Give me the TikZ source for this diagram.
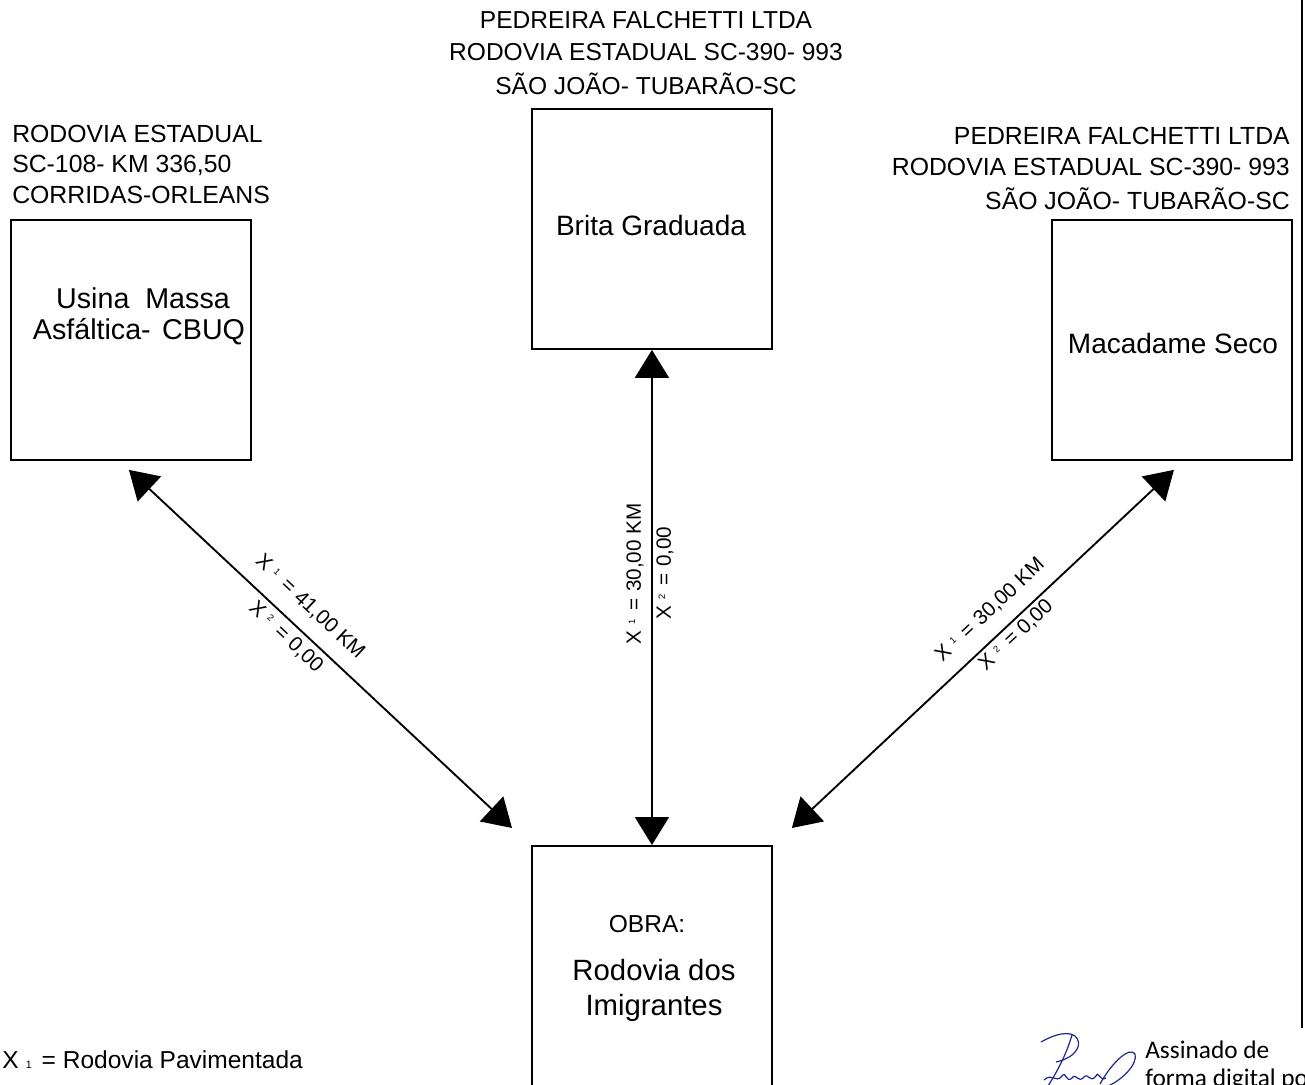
\documentclass[tikz,border=0pt]{standalone}
\usepackage{fontspec}
\setmainfont{Liberation Sans}
\newfontfamily\sigfont{Carlito}
\usetikzlibrary{arrows.meta,calc}
\definecolor{signblue}{RGB}{30,40,140}
\newcommand\subn[1]{\raisebox{0.28em}{\fontsize{7}{7}\selectfont #1}}
\begin{document}
\begin{tikzpicture}[x=0.75pt,y=-0.75pt,
  box/.style={draw, line width=1.4pt, minimum width=180pt, minimum height=180pt, inner sep=0pt},
  link/.style={line width=1.4pt, {Triangle[length=21pt,width=25.5pt]}-{Triangle[length=21pt,width=25.5pt]}},
  head/.style={font=\fontsize{18.4}{24}\selectfont, inner sep=0pt},
  lbl/.style={font=\fontsize{21}{26}\selectfont, inner sep=0pt},
  big/.style={font=\fontsize{22}{28}\selectfont, inner sep=0pt},
  dist/.style={font=\fontsize{15.5}{18}\selectfont, inner sep=0pt},
]
\useasboundingbox (0,0) rectangle (1305,1084);
\clip (0,0) rectangle (1305,1084);
% boxes
\node[box, anchor=north west] (U) at (10,219) {};
\node[box, anchor=north west] (B) at (531,108) {};
\node[box, anchor=north west] (M) at (1051,219) {};
\node[box, anchor=north west, minimum height=225pt] (O) at (531,845) {};
% headings
\node[head, align=center, anchor=north] (hB) at (646,11.5) {PEDREIRA FALCHETTI LTDA\\RODOVIA ESTADUAL SC-390- 993\\[1.5pt]SÃO JOÃO- TUBARÃO-SC};
\node[font=\fontsize{18.6}{23}\selectfont, inner sep=0pt, align=left, anchor=north west] (hU) at (12,124.5) {RODOVIA ESTADUAL\\SC-108- KM 336,50\\CORRIDAS-ORLEANS};
\node[font=\fontsize{18.6}{23.5}\selectfont, inner sep=0pt, align=right, anchor=north east] (hM) at (1290,126.5) {PEDREIRA FALCHETTI LTDA\\RODOVIA ESTADUAL SC-390- 993\\[2pt]SÃO JOÃO- TUBARÃO-SC};
% box labels
\node[font=\fontsize{21.5}{26}\selectfont, inner sep=0pt] (tU1) at (143,298) {Usina\ \ Massa};
\node[font=\fontsize{21.5}{26}\selectfont, inner sep=0pt] (tU2) at (139,332) {Asfáltica-\hspace{0.4em}CBUQ};
\node[lbl] (tB) at (651,225) {Brita Graduada};
\node[lbl] (tM) at (1173,343) {Macadame Seco};
\node[head, anchor=base] (tO1) at (647,932) {OBRA:};
\node[big, anchor=base] (tO2) at (654,980) {Rodovia dos};
\node[big, anchor=base] (tO3) at (654,1015) {Imigrantes};
% connectors
\draw[link] ($(U.south)+(-2,9)$) -- ($(O.north west)+(-19,-17)$);
\draw[link] (B.south) -- (O.north);
\draw[link] ($(M.south)+(2,9)$) -- ($(O.north east)+(19,-17)$);
% connector labels
\node[dist, rotate=-43.2] (dU1) at (310,607) {X\hspace{0.3em}\subn{1}\hspace{0.45em}=\hspace{0.3em}41,00 KM};
\node[dist, rotate=-43.2] (dU2) at (286,637) {X\hspace{0.3em}\subn{2}\hspace{0.45em}=\hspace{0.3em}0,00};
\node[dist, rotate=90] (dB1) at (635,574) {X\hspace{0.3em}\subn{1}\hspace{0.45em}=\hspace{0.3em}30,00 KM};
\node[dist, rotate=90] (dB2) at (665,573) {X\hspace{0.3em}\subn{2}\hspace{0.45em}=\hspace{0.3em}0,00};
\node[dist, rotate=43.2] (dM1) at (990,610) {X\hspace{0.3em}\subn{1}\hspace{0.45em}=\hspace{0.3em}30,00 KM};
\node[dist, rotate=43.2] (dM2) at (1016,635) {X\hspace{0.3em}\subn{2}\hspace{0.45em}=\hspace{0.3em}0,00};
% legend
\node[head, anchor=base west] (leg) at (2,1068) {X\hspace{0.3em}{\fontsize{8}{8}\selectfont 1}\hspace{0.4em}= Rodovia Pavimentada};
% right border line
\draw[line width=1.4pt] (1302,0) coordinate (rt) -- (1302,1028) coordinate (rb);
% signature
\begin{scope}[signblue, line width=0.9pt]
\draw (1041,1042) .. controls (1055,1034) and (1068,1031) .. (1075,1036) .. controls (1083,1043) and (1078,1057) .. (1056,1062);
\draw (1072,1035) .. controls (1066,1055) and (1058,1070) .. (1048,1086);
\draw (1044,1080) .. controls (1052,1072) and (1056,1084) .. (1062,1076) .. controls (1066,1070) and (1066,1084) .. (1072,1078) .. controls (1076,1072) and (1078,1084) .. (1084,1077) .. controls (1088,1072) and (1090,1084) .. (1096,1076) .. controls (1098,1070) and (1100,1082) .. (1106,1078);
\draw (1100,1084) .. controls (1112,1062) and (1130,1046) .. (1135,1054) .. controls (1138,1064) and (1122,1080) .. (1108,1086);
\end{scope}
\node[font=\sigfont\fontsize{19}{25}\selectfont, inner sep=0pt, anchor=base west] (sig1) at (1145,1058) {Assinado de};
\node[font=\sigfont\fontsize{19}{25}\selectfont, inner sep=0pt, anchor=base west] (sig2) at (1145,1086) {forma digital por};
\end{tikzpicture}
\end{document}
